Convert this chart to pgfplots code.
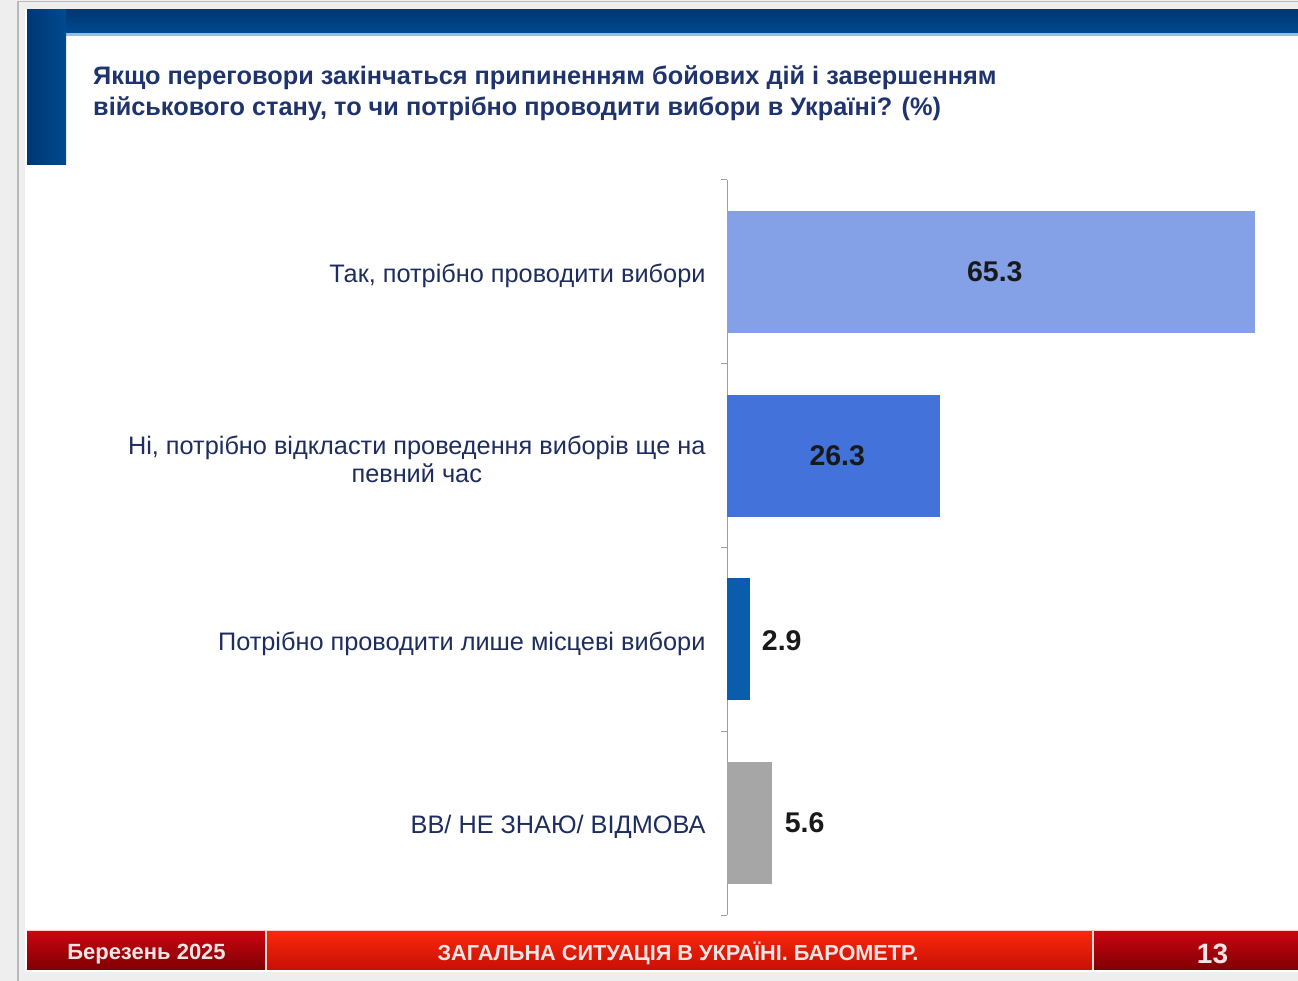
\documentclass[border=0pt]{standalone}
\usepackage{pgfplots}
\pgfplotsset{compat=1.18}
\usepackage{fontspec}
\setmainfont{Liberation Sans}
\definecolor{bggray}{RGB}{238,238,238}
\definecolor{topblue}{RGB}{0,74,143}
\definecolor{topbluedark}{RGB}{0,55,115}
\definecolor{lightblue}{RGB}{150,190,225}
\definecolor{titleblue}{RGB}{31,52,110}
\definecolor{labelblue}{RGB}{30,45,95}
\definecolor{cA}{RGB}{132,160,230}
\definecolor{cB}{RGB}{68,114,219}
\definecolor{cC}{RGB}{10,92,173}
\definecolor{cD}{RGB}{166,166,166}
\definecolor{redtop}{RGB}{205,5,15}
\definecolor{redbot}{RGB}{125,0,5}
\definecolor{brighttop}{RGB}{250,40,10}
\definecolor{brightbot}{RGB}{200,15,5}
\definecolor{footwhite}{RGB}{245,228,228}
\begin{document}
\begin{tikzpicture}
\fill[bggray] (0,0) rectangle (1298pt,981pt);
\draw[gray!55, line width=1.2pt] (18pt,0) -- (18pt,979.5pt) -- (1298pt,979.5pt);
\fill[white] (25pt,9pt) rectangle (1298pt,972pt);
% top bar and left accent
\shade[top color=topbluedark, bottom color=topblue] (27pt,948pt) rectangle (1298pt,971pt);
\fill[lightblue] (66pt,945pt) rectangle (1298pt,948pt);
\shade[left color=topbluedark, right color=topblue] (27pt,816pt) rectangle (66pt,971pt);
% title
\node[anchor=north west, align=left, text=titleblue, inner sep=0pt,
      font=\bfseries\fontsize{25.3}{31}\selectfont] at (93pt,916pt)
  {Якщо переговори закінчаться припиненням бойових дій і завершенням\\
   військового стану, то чи потрібно проводити вибори в Україні? (\%)};
% footer
\shade[top color=redtop, bottom color=redbot] (27pt,11pt) rectangle (1298pt,50pt);
\shade[top color=brighttop, bottom color=brightbot] (267pt,11pt) rectangle (1092pt,50pt);
\draw[white!85!red, line width=1.5pt] (266pt,11pt) -- (266pt,50pt);
\draw[white!85!red, line width=1.5pt] (1093pt,11pt) -- (1093pt,50pt);
\draw[white!80!red, line width=1pt] (27pt,50.5pt) -- (1298pt,50.5pt);
\node[text=footwhite, font=\bfseries\fontsize{22}{24}\selectfont] at (146.5pt,26.5pt) {Березень 2025};
\node[text=footwhite, font=\bfseries\fontsize{21.7}{24}\selectfont] at (678pt,27.5pt) {ЗАГАЛЬНА СИТУАЦІЯ В УКРАЇНІ. БАРОМЕТР.};
\node[text=footwhite, font=\bfseries\fontsize{28}{30}\selectfont] at (1212.5pt,27.5pt) {13};
\begin{axis}[
  at={(727pt,66pt)}, anchor=south west,
  scale only axis, width=560pt, height=735pt,
  xmin=0, xmax=69.3, ymin=-0.5, ymax=3.5,
  y dir=reverse,
  axis x line=none, axis y line*=left,
  axis line style={gray!75, line width=1pt},
  ytick={0,1,2,3},
  yticklabels={{Так, потрібно проводити вибори},
               {Ні, потрібно відкласти проведення виборів ще на\\певний час},
               {Потрібно проводити лише місцеві вибори},
               {ВВ/ НЕ ЗНАЮ/ ВІДМОВА}},
  major tick length=0pt,
  minor ytick={-0.5,0.5,1.5,2.5,3.5},
  minor tick length=6pt,
  tick align=outside,
  minor tick style={gray!75, line width=1pt},
  yticklabel style={font=\fontsize{25.3}{28}\selectfont, text=labelblue, align=center, xshift=-18pt, yshift=-4pt},
  clip=false,
  /pgf/number format/.cd, fixed, fixed zerofill, precision=1, assume math mode=true,
  /pgfplots/.cd,
  nodes near coords style={font=\bfseries\fontsize{28.5}{30}\selectfont, text=black!90},
]
\addplot[xbar, bar width=122pt, bar shift=0pt, fill=cA, draw=none] coordinates {(65.3,0)};
\addplot[xbar, bar width=122pt, bar shift=0pt, fill=cB, draw=none] coordinates {(26.3,1)};
\addplot[xbar, bar width=122pt, bar shift=0pt, fill=cC, draw=none, point meta=x,
  nodes near coords, nodes near coords style={anchor=west, xshift=8pt, yshift=-1.5pt}] coordinates {(2.9,2)};
\addplot[xbar, bar width=122pt, bar shift=0pt, fill=cD, draw=none, point meta=x,
  nodes near coords, nodes near coords style={anchor=west, xshift=9pt}] coordinates {(5.6,3)};
% value labels centred in the two long bars (x = half the value)
\addplot[draw=none, mark=none, point meta=explicit, nodes near coords,
  nodes near coords style={anchor=center, xshift=4pt}] coordinates {(32.65,0) [65.3] (13.15,1) [26.3]};
\end{axis}
\pgfresetboundingbox
\useasboundingbox (0,0) rectangle (1298pt,981pt);
\end{tikzpicture}
\end{document}
